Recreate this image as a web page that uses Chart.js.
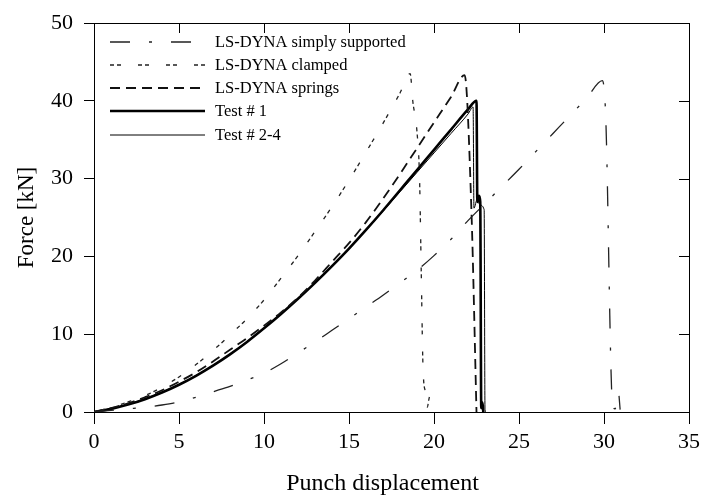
<!DOCTYPE html>
<html lang="en">
<head>
    <meta charset="UTF-8">
    <title>Punch force vs displacement</title>
    <style>
        html, body { margin: 0; padding: 0; background: #fff; }
        .chart { width: 702px; height: 500px; }
    </style>
</head>
<body>
    <div class="chart">
        <canvas id="forceChart" width="702" height="500"></canvas>
    </div>

    <script src="https://cdn.jsdelivr.net/npm/chart.js"></script>
    <script>
        const xTicks = [0, 5, 10, 15, 20, 25, 30, 35];
        const yTicks = [0, 10, 20, 30, 40, 50];

        const seriesNames = ["LS-DYNA simply supported", "LS-DYNA clamped", "LS-DYNA springs", "Test # 1", "Test # 2-4"];

        // LS-DYNA simply supported
        const simpleX = [0, 1, 2, 3, 4, 5, 6, 7, 8, 9, 10, 11, 12, 13, 14, 15, 16, 17, 18, 19, 20, 21, 22, 23, 24, 25, 26, 27, 28, 29, 29.9, 30.1, 30.5, 30.65, 30.85, 30.95];
        const simpleY = [0, 0.2, 0.4, 0.6, 0.9, 1.3, 1.9, 2.6, 3.3, 4.1, 5.0, 6.2, 7.6, 9.0, 10.5, 12.0, 13.5, 15.0, 16.6, 18.2, 20.1, 22.2, 24.6, 26.8, 29.0, 31.2, 33.5, 35.8, 38.1, 40.4, 42.6, 38.0, 1.0, 0.4, 2.5, 0.3];

        // LS-DYNA clamped
        const clampedX = [0, 1, 2, 3, 4, 5, 6, 7, 8, 9, 10, 11, 12, 13, 14, 15, 16, 17, 18, 18.6, 18.75, 19.0, 19.15, 19.25, 19.35, 19.5, 19.6, 19.75, 19.85, 19.95];
        const clampedY = [0, 0.6, 1.3, 2.1, 3.2, 4.5, 6.1, 7.9, 9.9, 12.0, 14.4, 17.2, 20.1, 23.2, 26.4, 29.8, 33.4, 37.1, 41.0, 43.5, 40.0, 36.0, 30.0, 18.0, 6.0, 2.4, 0.6, 2.0, 0.5, 0];

        // LS-DYNA springs
        const springsX = [0, 1, 2, 3, 4, 5, 6, 7, 8, 9, 10, 11, 12, 13, 14, 15, 16, 17, 18, 19, 20, 21, 21.8, 22.2, 22.5];
        const springsY = [0, 0.5, 1.1, 1.9, 2.8, 3.9, 5.1, 6.5, 8.0, 9.5, 11.1, 12.8, 14.7, 16.9, 19.3, 21.7, 24.4, 27.4, 30.6, 33.9, 37.2, 40.5, 43.3, 26.0, 0];

        // Test # 1
        const test1X = [0, 1, 2, 3, 4, 5, 6, 7, 8, 9, 10, 11, 12, 13, 14, 15, 16, 17, 18, 19, 20, 21, 22, 22.5, 22.55, 22.65, 22.72, 22.78, 22.85, 22.9];
        const test1Y = [0, 0.4, 0.95, 1.65, 2.5, 3.5, 4.65, 5.95, 7.4, 9.0, 10.75, 12.6, 14.55, 16.6, 18.75, 21.0, 23.4, 25.9, 28.5, 31.1, 33.7, 36.3, 38.9, 40.0, 27.0, 27.8, 27.0, 0.5, 1.2, 0];

        // Test # 2-4
        const test2X = [0, 1, 2, 3, 4, 5, 6, 7, 8, 9, 10, 11, 12, 13, 14, 15, 16, 17, 18, 19, 20, 21, 22, 22.3, 22.35, 22.55, 22.7, 22.95, 23.0, 23.05];
        const test2Y = [0, 0.45, 1.0, 1.7, 2.55, 3.55, 4.7, 6.0, 7.45, 9.05, 10.8, 12.65, 14.6, 16.65, 18.8, 21.0, 23.35, 25.8, 28.3, 30.8, 33.3, 35.8, 38.3, 39.2, 26.2, 27.4, 26.6, 26.0, 0.3, 0];

        const serif = "'Liberation Serif', 'Times New Roman', serif";

        function points(xs, ys) {
            return xs.map((x, i) => ({ x: x, y: ys[i] }));
        }

        const styles = [
            { dash: [20, 19, 3, 19], width: 1.3, color: '#222' },
            { dash: [4, 3, 4, 17], width: 1.3, color: '#222' },
            { dash: [10, 6], width: 1.8, color: '#111' },
            { dash: [], width: 2.6, color: '#000' },
            { dash: [], width: 1, color: '#000' }
        ];

        const allX = [simpleX, clampedX, springsX, test1X, test2X];
        const allY = [simpleY, clampedY, springsY, test1Y, test2Y];

        const datasets = seriesNames.map((name, i) => ({
            label: name,
            data: points(allX[i], allY[i]),
            borderColor: styles[i].color,
            borderWidth: styles[i].width,
            borderDash: styles[i].dash,
            pointRadius: 0,
            fill: false,
            cubicInterpolationMode: 'monotone'
        }));

        // legend drawn inside the plot, top left
        const insideLegend = {
            id: 'insideLegend',
            afterDraw(chart) {
                const ctx = chart.ctx;
                const rows = [42, 65, 88, 111, 135];
                ctx.save();
                ctx.font = "16.5px " + serif;
                ctx.textBaseline = 'middle';
                ctx.fillStyle = '#000';
                chart.data.datasets.forEach((ds, i) => {
                    ctx.beginPath();
                    ctx.setLineDash(ds.borderDash);
                    ctx.lineWidth = ds.borderWidth;
                    ctx.strokeStyle = ds.borderColor;
                    ctx.moveTo(110, rows[i]);
                    ctx.lineTo(205, rows[i]);
                    ctx.stroke();
                    ctx.fillText(ds.label, 215, rows[i] + 1);
                });
                ctx.restore();
            }
        };

        // small inward ticks on top and right frame
        const innerTicks = {
            id: 'innerTicks',
            afterDatasetsDraw(chart) {
                const { ctx, chartArea, scales } = chart;
                ctx.save();
                ctx.strokeStyle = '#000';
                ctx.lineWidth = 1;
                ctx.setLineDash([]);
                ctx.beginPath();
                xTicks.forEach(v => {
                    const px = Math.round(scales.x.getPixelForValue(v)) + 0.5;
                    ctx.moveTo(px, chartArea.top);
                    ctx.lineTo(px, chartArea.top + 10);
                });
                yTicks.forEach(v => {
                    const py = Math.round(scales.y.getPixelForValue(v)) + 0.5;
                    ctx.moveTo(chartArea.right, py);
                    ctx.lineTo(chartArea.right - 10, py);
                });
                ctx.stroke();
                ctx.restore();
            }
        };

        new Chart(document.getElementById('forceChart'), {
            type: 'line',
            data: { datasets: datasets },
            options: {
                responsive: false,
                animation: false,
                layout: { padding: 0 },
                plugins: {
                    legend: { display: false },
                    tooltip: { enabled: false }
                },
                scales: {
                    x: {
                        type: 'linear',
                        position: 'bottom',
                        min: 0,
                        max: 35,
                        afterBuildTicks: s => { s.ticks = xTicks.map(v => ({ value: v })); },
                        afterFit: s => { s.height = 88; s.paddingLeft = 0; s.paddingRight = 0; },
                        grid: { drawOnChartArea: false, tickLength: 12, tickColor: '#000' },
                        border: { color: '#000', width: 1 },
                        ticks: { color: '#000', padding: 5, maxRotation: 0, font: { family: serif, size: 22 } },
                        // trailing no-break spaces nudge the centred title a little left, as in the original
                        title: { display: true, text: 'Punch displacement\u00a0\u00a0\u00a0', color: '#000', font: { family: serif, size: 24 }, padding: { top: 0, bottom: 2 } }
                    },
                    x2: {
                        type: 'linear',
                        position: 'top',
                        min: 0,
                        max: 35,
                        afterFit: s => { s.height = 23; s.paddingLeft = 0; s.paddingRight = 0; },
                        grid: { display: false },
                        border: { color: '#000', width: 1 },
                        ticks: { display: false }
                    },
                    y: {
                        type: 'linear',
                        position: 'left',
                        min: 0,
                        max: 50,
                        afterBuildTicks: s => { s.ticks = yTicks.map(v => ({ value: v })); },
                        afterFit: s => { s.width = 94; s.paddingTop = 0; s.paddingBottom = 0; },
                        grid: { drawOnChartArea: false, tickLength: 10, tickColor: '#000' },
                        border: { color: '#000', width: 1 },
                        ticks: { color: '#000', padding: 11, font: { family: serif, size: 22 } },
                        title: { display: true, text: 'Force [kN]', color: '#000', font: { family: serif, size: 23 }, padding: { top: 13, bottom: 0 } }
                    },
                    y2: {
                        type: 'linear',
                        position: 'right',
                        min: 0,
                        max: 50,
                        afterFit: s => { s.width = 13; s.paddingTop = 0; s.paddingBottom = 0; },
                        grid: { display: false },
                        border: { color: '#000', width: 1 },
                        ticks: { display: false }
                    }
                }
            },
            plugins: [insideLegend, innerTicks]
        });
    </script>
</body>
</html>
